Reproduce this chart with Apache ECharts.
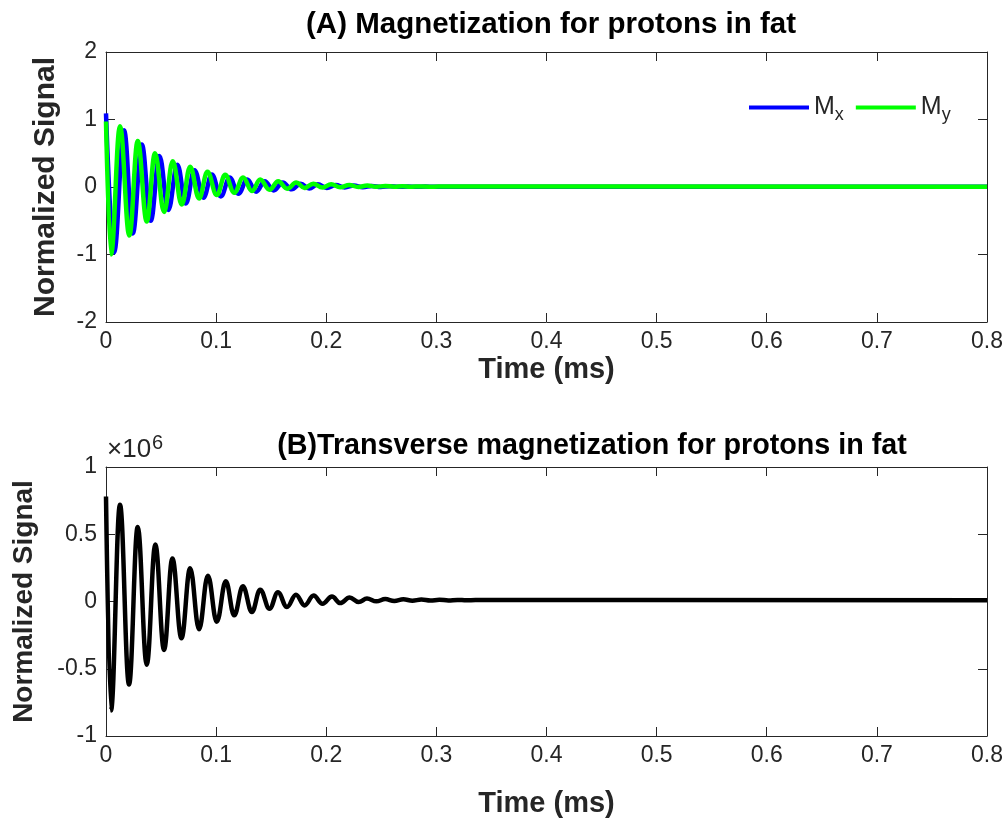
<!DOCTYPE html>
<html>
<head>
<meta charset="utf-8">
<script src="https://cdn.jsdelivr.net/npm/echarts@6/dist/echarts.min.js"></script>
<style>
html,body{margin:0;padding:0;background:#fff;}
#c{width:1006px;height:819px;}
</style>
</head>
<body>
<div id="c"></div>
<script>
// ---- Data (extrema of the damped oscillations) ----
// Panel A: Mx (blue) — time (ms) and normalized value
var mxTime = [0, 0.0073, 0.0164, 0.0243, 0.0325, 0.0406, 0.0485, 0.0566, 0.0648, 0.0725, 0.0803, 0.0885, 0.0961, 0.1043, 0.1123, 0.1203, 0.1282, 0.1364, 0.1441, 0.1523, 0.1605, 0.1686, 0.1768, 0.1845, 0.1923, 0.2005, 0.2086, 0.2168, 0.225, 0.2332, 0.2414, 0.2495, 0.2577, 0.2659, 0.2741, 0.2818, 0.29, 0.298, 0.8];
var mxVal  = [1.09, -0.97, 0.84, -0.69, 0.63, -0.50, 0.46, -0.34, 0.33, -0.245, 0.25, -0.16, 0.185, -0.14, 0.14, -0.10, 0.11, -0.07, 0.085, -0.05, 0.065, -0.035, 0.05, -0.022, 0.04, -0.013, 0.03, -0.007, 0.022, -0.003, 0.016, 0.0, 0.012, 0.002, 0.008, 0.003, 0.006, 0.004, 0.004];
// Panel A: My (green)
var myTime = [0, 0.0045, 0.0127, 0.0212, 0.0288, 0.037, 0.0445, 0.0527, 0.0606, 0.0688, 0.0764, 0.0845, 0.0921, 0.1006, 0.1082, 0.1164, 0.1245, 0.1325, 0.14, 0.1485, 0.1564, 0.1645, 0.1727, 0.1803, 0.1882, 0.1966, 0.2045, 0.2127, 0.2209, 0.2291, 0.2373, 0.2455, 0.2536, 0.2618, 0.2691, 0.2773, 0.2855, 0.2936, 0.3018, 0.8];
var myVal  = [0.97, -1.00, 0.90, -0.72, 0.68, -0.51, 0.50, -0.37, 0.38, -0.26, 0.30, -0.17, 0.225, -0.12, 0.18, -0.085, 0.14, -0.06, 0.11, -0.04, 0.085, -0.025, 0.065, -0.015, 0.05, -0.008, 0.04, -0.003, 0.03, 0.0, 0.022, 0.003, 0.016, 0.004, 0.012, 0.004, 0.008, 0.005, 0.006, 0.005];
// Panel B: transverse magnetization (x 10^6)
var mxyTime = [0, 0.0045, 0.0127, 0.0209, 0.0288, 0.037, 0.0448, 0.0527, 0.0603, 0.0685, 0.0764, 0.0845, 0.0925, 0.1006, 0.1088, 0.1164, 0.1243, 0.1325, 0.14, 0.1485, 0.1561, 0.1643, 0.1725, 0.1803, 0.1885, 0.1966, 0.2052, 0.2127, 0.2212, 0.2294, 0.237, 0.2455, 0.2536, 0.2618, 0.27, 0.2782, 0.2864, 0.2945, 0.3027, 0.3109, 0.3191, 0.3273, 0.3355, 0.8];
var mxyVal  = [0.78, -0.81, 0.72, -0.617, 0.554, -0.47, 0.424, -0.36, 0.32, -0.274, 0.247, -0.206, 0.191, -0.15, 0.15, -0.103, 0.113, -0.078, 0.088, -0.054, 0.069, -0.041, 0.051, -0.029, 0.044, -0.017, 0.037, -0.012, 0.03, -0.004, 0.022, 0.001, 0.018, 0.004, 0.016, 0.006, 0.014, 0.007, 0.013, 0.008, 0.012, 0.009, 0.011, 0.01];

var titleA = '(A) Magnetization for protons in fat';
var titleB = '(B)Transverse magnetization for protons in fat';
var xLabel = 'Time (ms)';
var yLabel = 'Normalized Signal';
var seriesNames = ['Mx', 'My'];

function zip(t, v) { return t.map(function (x, i) { return [x, v[i]]; }); }

var FONT = '"Liberation Sans", Arial, Helvetica, sans-serif';
var AX = '#262626';

function xAx(gridIndex, pos, show, gap) {
  return {
    type: 'value', gridIndex: gridIndex, position: pos, min: 0, max: 0.8, interval: 0.1,
    axisLine: { show: true, onZero: false, lineStyle: { color: AX, width: 1 } },
    axisTick: { show: true, inside: true, length: 9, lineStyle: { color: AX } },
    axisLabel: { show: show, color: AX, fontSize: 23, fontFamily: FONT, margin: 8 },
    splitLine: { show: false },
    name: show ? xLabel : '', nameLocation: 'middle', nameGap: gap,
    nameTextStyle: { color: AX, fontSize: 29, fontWeight: 'bold', fontFamily: FONT }
  };
}
function yAx(gridIndex, pos, show, min, max, interval, gap, fs) {
  return {
    type: 'value', gridIndex: gridIndex, position: pos, min: min, max: max, interval: interval,
    axisLine: { show: true, onZero: false, lineStyle: { color: AX, width: 1 } },
    axisTick: { show: true, inside: true, length: 9, lineStyle: { color: AX } },
    axisLabel: { show: show, color: AX, fontSize: 23, fontFamily: FONT, margin: 9 },
    splitLine: { show: false },
    name: show ? yLabel : '', nameLocation: 'middle', nameGap: gap, nameRotate: 90,
    nameTextStyle: { color: AX, fontSize: fs, fontWeight: 'bold', fontFamily: FONT }
  };
}

var chart = echarts.init(document.getElementById('c'), null, { renderer: 'canvas' });
chart.setOption({
  backgroundColor: '#ffffff',
  animation: false,
  title: [
    { text: titleA, left: 546, top: 5, textAlign: 'center',
      textStyle: { fontSize: 29.5, fontWeight: 'bold', color: '#000', fontFamily: FONT } },
    { text: titleB, left: 587, top: 427, textAlign: 'center',
      textStyle: { fontSize: 28.7, fontWeight: 'bold', color: '#000', fontFamily: FONT } }
  ],
  legend: {
    left: 744, top: 90, icon: 'rect', itemWidth: 60, itemHeight: 4, itemGap: 12,
    data: seriesNames,
    formatter: function (n) { return '{m|M}{s|' + n.slice(1) + '}'; },
    textStyle: {
      color: AX, fontFamily: FONT,
      rich: {
        m: { fontSize: 25, fontFamily: FONT, color: AX },
        s: { fontSize: 18, fontFamily: FONT, color: AX, padding: [16, 0, 0, 0] }
      }
    }
  },
  grid: [
    { left: 106, right: 19, top: 52, height: 270 },
    { left: 106, right: 19, top: 467, height: 269 }
  ],
  xAxis: [xAx(0, 'bottom', true, 33), xAx(0, 'top', false, 0), xAx(1, 'bottom', true, 53), xAx(1, 'top', false, 0)],
  yAxis: [yAx(0, 'left', true, -2, 2, 1, 45, 30), yAx(0, 'right', false, -2, 2, 1, 0, 30),
          yAx(1, 'left', true, -1, 1, 0.5, 68, 28), yAx(1, 'right', false, -1, 1, 0.5, 0, 28)],
  graphic: [
    { type: 'text', left: 107, top: 433,
      style: { text: '×10{p|6}', fill: AX, font: '26px ' + FONT,
        rich: { p: { fontSize: 20, fontFamily: FONT, fill: AX, verticalAlign: 'top', padding: [0, 0, 14, 1] } } } }
  ],
  series: [
    { name: 'Mx', type: 'line', xAxisIndex: 0, yAxisIndex: 0, data: zip(mxTime, mxVal),
      showSymbol: false, smooth: 0.4, smoothMonotone: 'x', color: '#0000ff', lineStyle: { width: 4.5, color: '#0000ff' } },
    { name: 'My', type: 'line', xAxisIndex: 0, yAxisIndex: 0, data: zip(myTime, myVal),
      showSymbol: false, smooth: 0.4, smoothMonotone: 'x', color: '#00ff00', lineStyle: { width: 4.5, color: '#00ff00' } },
    { name: 'Mxy', type: 'line', xAxisIndex: 2, yAxisIndex: 2, data: zip(mxyTime, mxyVal),
      showSymbol: false, smooth: 0.4, smoothMonotone: 'x', color: '#000000', lineStyle: { width: 4.5, color: '#000000' } }
  ]
});
</script>
</body>
</html>
